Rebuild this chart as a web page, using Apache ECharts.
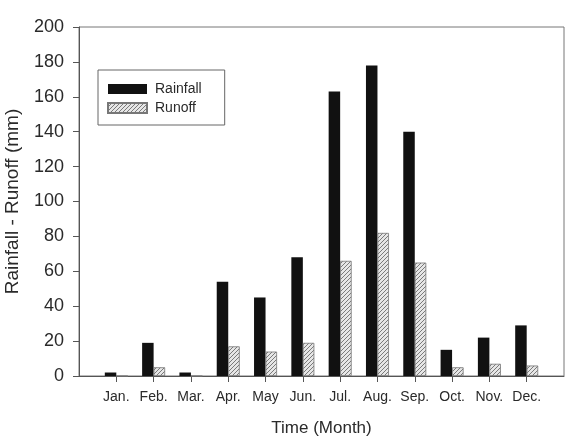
<!DOCTYPE html>
<html>
<head>
<meta charset="utf-8">
<script src="https://cdn.jsdelivr.net/npm/echarts@6/dist/echarts.min.js"></script>
<style>
  html, body { margin: 0; padding: 0; background: #fff; }
  #chart { width: 571px; height: 437px; }
</style>
</head>
<body>
<div id="chart"></div>
<script>
let months = ['Jan.', 'Feb.', 'Mar.', 'Apr.', 'May', 'Jun.', 'Jul.', 'Aug.', 'Sep.', 'Oct.', 'Nov.', 'Dec.'];
let rainfall = [2, 19, 2, 54, 45, 68, 163, 178, 140, 15, 22, 29];
let runoff = [0, 5, 0, 17, 14, 19, 66, 82, 65, 5, 7, 6];
let yTicks = [0, 20, 40, 60, 80, 100, 120, 140, 160, 180, 200];

let font = '"Liberation Sans", Arial, sans-serif';
let textColor = '#2a2a2a';

// diagonal hatch for the runoff bars
function makeHatch() {
    let c = document.createElement('canvas');
    c.width = 4;
    c.height = 4;
    let ctx = c.getContext('2d');
    ctx.fillStyle = '#e6e6e6';
    ctx.fillRect(0, 0, 4, 4);
    ctx.strokeStyle = '#7a7a7a';
    ctx.lineWidth = 1;
    ctx.beginPath();
    ctx.moveTo(-1, 5);
    ctx.lineTo(5, -1);
    ctx.moveTo(-1, 1);
    ctx.lineTo(1, -1);
    ctx.moveTo(3, 5);
    ctx.lineTo(5, 3);
    ctx.stroke();
    return c;
}

// pad one empty slot either side so months sit on ticks 1..12
let cats = [''].concat(months, ['']);
function pad(arr) {
    return [null].concat(arr, [null]);
}

let chart = echarts.init(document.getElementById('chart'));

let options = {
    animation: false,
    grid: {
        left: 79,
        right: 7,
        top: 27,
        bottom: 61,
        outerBoundsMode: 'none',
        containLabel: false,
        show: true,
        borderColor: '#777',
        borderWidth: 1
    },
    legend: {
        left: 98,
        top: 70,
        orient: 'vertical',
        itemWidth: 39,
        itemHeight: 10,
        itemGap: 5,
        padding: [12, 23, 10, 9],
        borderColor: '#666',
        borderWidth: 1,
        icon: 'rect',
        textStyle: {
            fontFamily: font,
            fontSize: 14,
            color: textColor,
            padding: [0, 0, 0, 3]
        },
        data: ['Rainfall', 'Runoff']
    },
    xAxis: {
        type: 'category',
        data: cats,
        boundaryGap: false,
        name: 'Time (Month)',
        nameLocation: 'middle',
        nameGap: 44,
        nameTextStyle: {
            fontFamily: font,
            fontSize: 17,
            color: textColor
        },
        axisLine: { lineStyle: { color: '#555', width: 1 } },
        axisTick: {
            length: 6,
            lineStyle: { color: '#555' },
            interval: function (index) {
                return index > 0 && index < cats.length - 1;
            }
        },
        axisLabel: {
            interval: 0,
            margin: 14,
            fontFamily: font,
            fontSize: 14,
            color: textColor
        },
        splitLine: { show: false }
    },
    yAxis: {
        type: 'value',
        min: yTicks[0],
        max: yTicks[yTicks.length - 1],
        interval: yTicks[1] - yTicks[0],
        name: 'Rainfall - Runoff (mm)',
        nameLocation: 'middle',
        nameRotate: 90,
        nameGap: 57,
        nameTextStyle: {
            fontFamily: font,
            fontSize: 19,
            color: textColor
        },
        axisLine: { show: true, lineStyle: { color: '#555', width: 1 } },
        axisTick: { show: true, length: 6, lineStyle: { color: '#555' } },
        axisLabel: {
            margin: 15,
            fontFamily: font,
            fontSize: 18,
            color: textColor
        },
        splitLine: { show: false }
    },
    series: [
        {
            name: 'Rainfall',
            type: 'bar',
            data: pad(rainfall),
            barWidth: 11.5,
            barGap: '0%',
            itemStyle: { color: '#111' }
        },
        {
            name: 'Runoff',
            type: 'bar',
            data: pad(runoff),
            barWidth: 11.5,
            itemStyle: {
                color: { image: makeHatch(), repeat: 'repeat' },
                borderColor: '#777',
                borderWidth: 0.8
            }
        }
    ]
};
chart.setOption(options);
</script>
</body>
</html>
